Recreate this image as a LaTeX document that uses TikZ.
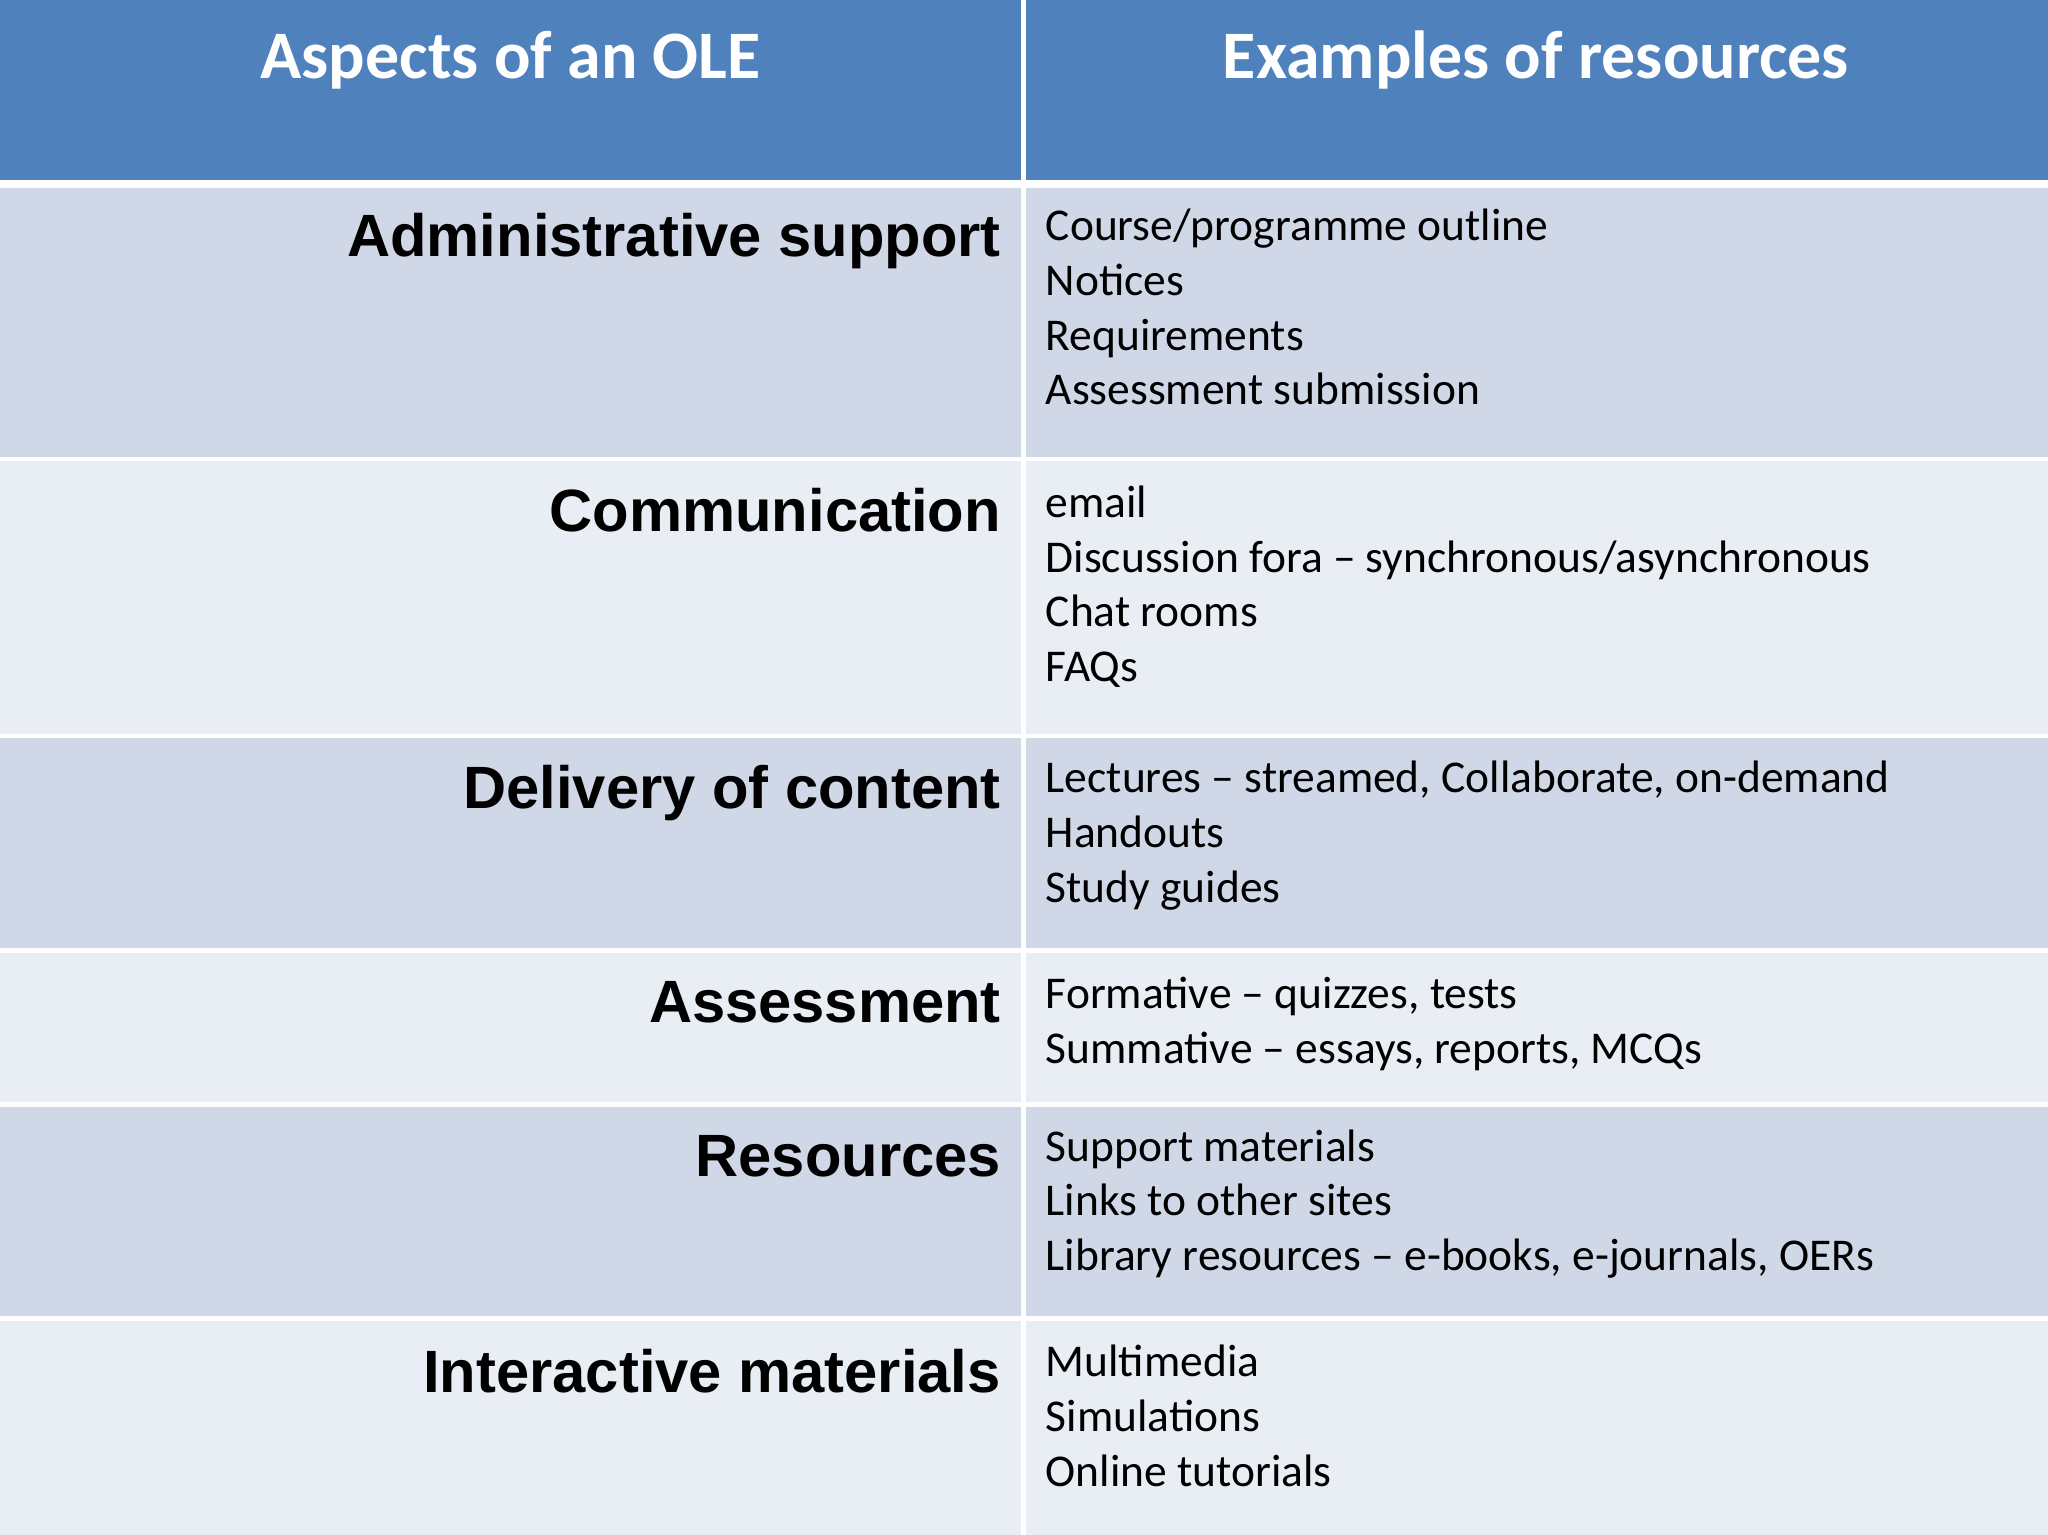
\documentclass[tikz,border=0pt]{standalone}
\usepackage{fontspec}
\setmainfont{Carlito}
\newfontfamily\arialb{Liberation Sans}[BoldFont={* Bold}]
\definecolor{hdr}{HTML}{4F81BD}
\definecolor{rowa}{HTML}{D0D8E8}
\definecolor{rowb}{HTML}{E9EDF4}
\tikzset{
  hd/.style={font=\fontsize{14.8}{18}\selectfont\bfseries, text=white, anchor=base},
  asp/.style={font=\arialb\bfseries\fontsize{13}{16}\selectfont, anchor=base east, inner sep=0},
  res/.style={font=\fontsize{9.9}{11.95}\selectfont, anchor=base west, inner sep=0, align=left},
}
\begin{document}
\begin{tikzpicture}[x=0.01cm,y=-0.01cm]
\useasboundingbox (0,0) rectangle (1568,1175);
\fill[white] (0,0) rectangle (1568,1175);
\fill[hdr] (0,0) rectangle (1568,138);
\fill[rowa] (0,144) rectangle (1568,351);
\fill[rowb] (0,352) rectangle (1568,563);
\fill[rowa] (0,564) rectangle (1568,727);
\fill[rowb] (0,728) rectangle (1568,845);
\fill[rowa] (0,846) rectangle (1568,1009);
\fill[rowb] (0,1010) rectangle (1568,1175);
\draw[white, line width=1.2pt] (783.5,0) -- (783.5,1175);
\foreach \y in {351.5,563.5,727.5,845.5,1009.5} \draw[white, line width=1pt] (0,\y) -- (1568,\y);
\node[hd] (h1) at (391,60) {Aspects of an OLE};
\node[hd] (h2) at (1176,60) {Examples of resources};
\node[asp] (a1) at (767,196) {Administrative support};
\node[asp] (a2) at (767,407) {Communication};
\node[asp] (a3) at (767,619) {Delivery of content};
\node[asp] (a4) at (767,783) {Assessment};
\node[asp] (a5) at (767,901) {Resources};
\node[asp] (a6) at (767,1066) {Interactive materials};
\node[res] (r1) at (800,310) {Course/programme outline\\Notices\\Requirements\\Assessment submission};
\node[res] (r2) at (800,522) {email\\Discussion fora -- synchronous/asynchronous\\Chat rooms\\FAQs};
\node[res] (r3) at (800,691) {Lectures -- streamed, Collaborate, on-demand\\Handouts\\Study guides};
\node[res] (r4) at (800,814) {Formative -- quizzes, tests\\Summative -- essays, reports, MCQs};
\node[res] (r5) at (800,973) {Support materials\\Links to other sites\\Library resources -- e-books, e-journals, OERs};
\node[res] (r6) at (800,1138) {Multimedia\\Simulations\\Online tutorials};
\end{tikzpicture}
\end{document}
